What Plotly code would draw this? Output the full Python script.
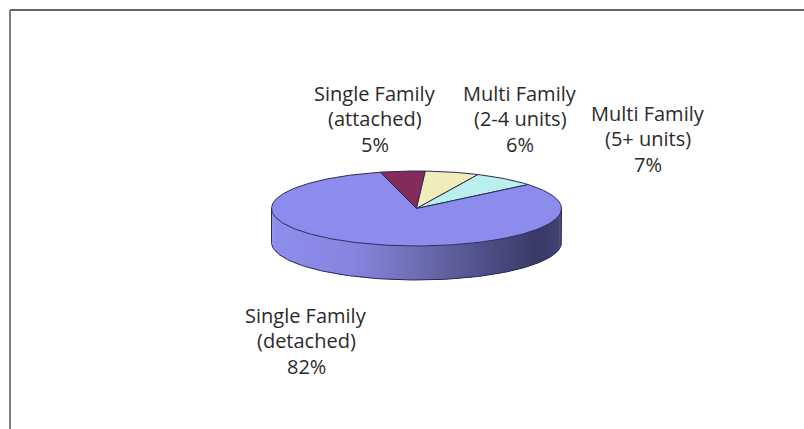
import numpy as np
import plotly.graph_objects as go

categories = ["Single Family (attached)", "Multi Family (2-4 units)", "Multi Family (5+ units)", "Single Family (detached)"]
values = [5, 6, 7, 82]
label_lines = [["Single Family", "(attached)"], ["Multi Family", "(2-4 units)"], ["Multi Family", "(5+ units)"], ["Single Family", "(detached)"]]
slice_colors = ["#842B5C", "#F0EDBA", "#B9F0EC", "#8C8CEE"]
label_x = [375, 520, 648, 306]
label_y = [93, 93, 113, 315]

CX, CY, RX, RY, DEPTH = 416.5, 208.5, 145, 37.5, 34
START = -14.5
OUTLINE = "#2a2a58"
LINE_STEP = 25.5

def pt(deg, dy=0.0):
    r = np.radians(deg)
    return CX + RX * np.sin(r), CY - RY * np.cos(r) + dy

def lerp(a, b, t):
    return tuple(a[i] + (b[i] - a[i]) * t for i in range(3))

def side_color(x):
    t = (x - (CX - RX)) / (2 * RX)
    stops = [(0.0, (142, 142, 236)), (0.28, (134, 134, 224)), (0.5, (110, 110, 180)), (0.75, (78, 78, 132)), (0.92, (58, 58, 104)), (1.0, (68, 68, 118))]
    for (t0, c0), (t1, c1) in zip(stops, stops[1:]):
        if t <= t1:
            return "rgb(%d,%d,%d)" % lerp(c0, c1, (t - t0) / (t1 - t0))
    return "rgb(68,68,118)"

fig = go.Figure()

# side wall, drawn as narrow strips along the front of the disc
edges = np.linspace(90, 270, 121)
for a0, a1 in zip(edges[:-1], edges[1:]):
    ang = np.linspace(a0, a1 + 1.0 if a1 < 270 else a1, 4)
    xt, yt = pt(ang)
    xb, yb = pt(ang[::-1], DEPTH)
    fig.add_trace(go.Scatter(x=np.r_[xt, xb], y=np.r_[yt, yb], mode="lines", fill="toself",
                             fillcolor=side_color(float(pt((a0 + a1) / 2)[0])), line=dict(width=0),
                             hoverinfo="skip", showlegend=False))

# side outline
ang = np.linspace(90, 270, 120)
xb, yb = pt(ang, DEPTH)
x0, y0 = pt(np.array([90.0]))
x1, y1 = pt(np.array([270.0]))
fig.add_trace(go.Scatter(x=np.r_[x0, xb, x1], y=np.r_[y0, yb, y1], mode="lines",
                         line=dict(color=OUTLINE, width=1), hoverinfo="skip", showlegend=False))

# top face, one wedge per value
total = sum(values)
start = START
for name, v, c in zip(categories, values, slice_colors):
    sweep = 360.0 * v / total
    ang = np.linspace(start, start + sweep, max(int(sweep), 2) + 1)
    x, y = pt(ang)
    fig.add_trace(go.Scatter(x=np.r_[CX, x, CX], y=np.r_[CY, y, CY], mode="lines", fill="toself",
                             fillcolor=c, line=dict(color=OUTLINE, width=1), name=name,
                             hoverinfo="name", showlegend=False))
    start += sweep

annotations = []
for lines, v, lx, ly in zip(label_lines, values, label_x, label_y):
    for i, line in enumerate(lines + [f"{v}%"]):
        annotations.append(dict(x=lx, y=ly + i * LINE_STEP, xref="x", yref="y", showarrow=False, align="center",
                                text=line, height=25, borderpad=0, font=dict(family="Open Sans", size=20, color="#2b2b2b")))

shapes = [
    dict(type="line", xref="x", yref="y", x0=10, x1=804, y0=10, y1=10, line=dict(color="#333333", width=1.5)),
    dict(type="line", xref="x", yref="y", x0=10, x1=10, y0=10, y1=429, line=dict(color="#808080", width=2)),
]

fig.update_layout(
    width=804, height=429, margin=dict(l=0, r=0, t=0, b=0), paper_bgcolor="white", plot_bgcolor="white",
    xaxis=dict(range=[0, 804], visible=False, fixedrange=True),
    yaxis=dict(range=[429, 0], visible=False, fixedrange=True),
    annotations=annotations, shapes=shapes, showlegend=False,
)
fig.write_html("out.html", config=dict(displayModeBar=False),
               post_script="document.body.style.margin='0';document.body.style.overflow='hidden';")
